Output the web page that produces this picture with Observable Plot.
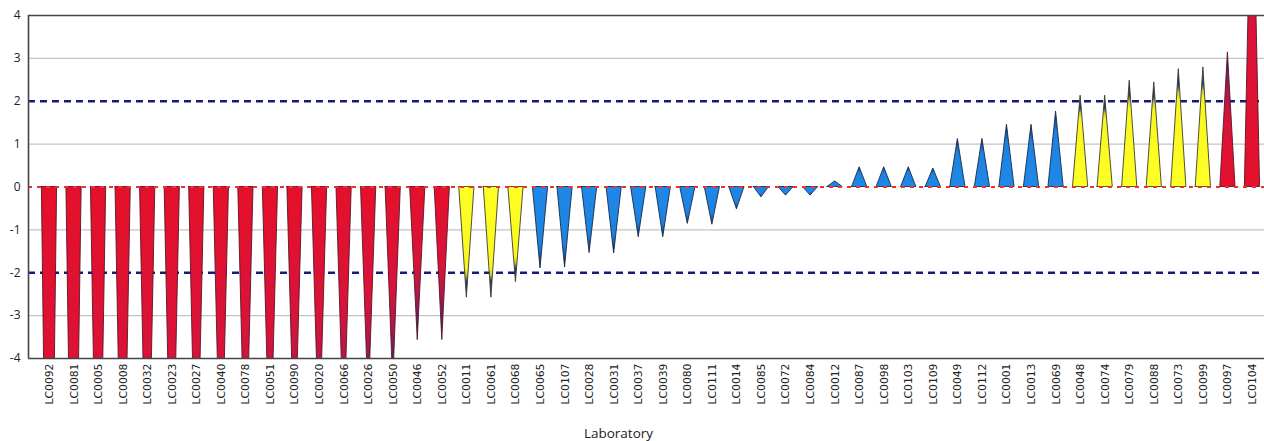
<!DOCTYPE html>
<html>
<head>
<meta charset="utf-8">
<script src="https://cdn.jsdelivr.net/npm/d3@7"></script>
<script src="https://cdn.jsdelivr.net/npm/@observablehq/plot@0.6"></script>
<style>
  html, body { margin: 0; padding: 0; background: #fff; }
  #chart svg { display: block; }
</style>
</head>
<body>
<div id="chart"></div>
<script>
// Laboratories, in the order shown
const labs = ["LC0092","LC0081","LC0005","LC0008","LC0032","LC0023","LC0027","LC0040","LC0078","LC0051",
  "LC0090","LC0020","LC0066","LC0026","LC0050","LC0046","LC0052","LC0011","LC0061","LC0068",
  "LC0065","LC0107","LC0028","LC0031","LC0037","LC0039","LC0080","LC0111","LC0014","LC0085",
  "LC0072","LC0084","LC0012","LC0087","LC0098","LC0103","LC0109","LC0049","LC0112","LC0001",
  "LC0013","LC0069","LC0048","LC0074","LC0079","LC0088","LC0073","LC0099","LC0097","LC0104"];
// z-scores (values beyond ±4 are clipped by the axis)
const zScores = [-14, -12, -10.5, -9.5, -9, -8.5, -8, -7.5, -7.1, -6.8,
  -6.4, -6.1, -5.8, -5.1, -4.6, -3.57, -3.57, -2.58, -2.58, -2.22,
  -1.9, -1.88, -1.54, -1.55, -1.17, -1.17, -0.86, -0.88, -0.52, -0.24,
  -0.2, -0.2, 0.13, 0.46, 0.46, 0.46, 0.43, 1.12, 1.12, 1.45,
  1.45, 1.76, 2.13, 2.13, 2.48, 2.44, 2.75, 2.79, 3.14, 8.5];
const yTicks = [-4, -3, -2, -1, 0, 1, 2, 3, 4];
const gridValues = [-3, -1, 1, 3];
const limitValues = [-2, 2];
const axisTitle = "Laboratory";

const palette = {
  red:    {stops: [[0, "#e5102b"], [0.5, "#d8133a"], [0.7, "#b01848"], [0.82, "#74205a"], [0.9, "#1e2f6b"], [1, "#1e2f6b"]], line: "#5a1428"},
  yellow: {stops: [[0, "#ffff26"], [0.74, "#f8f820"], [0.8, "#c8c840"], [0.86, "#1e3570"], [1, "#1e3570"]], line: "#3c3c28"},
  blue:   {stops: [[0, "#1f88e8"], [0.72, "#1c82e0"], [0.84, "#1a5fae"], [0.92, "#1c3570"], [1, "#1c3570"]], line: "#1a2a4a"}
};
const classOf = v => Math.abs(v) >= 3 ? "red" : Math.abs(v) >= 2 ? "yellow" : "blue";

const halfWidth = 0.31;
const points = [];
labs.forEach((lab, i) => {
  const v = zScores[i];
  const cls = classOf(v);
  const dir = v < 0 ? "down" : "up";
  const fill = `url(#g-${cls}-${dir})`;
  const stroke = palette[cls].line;
  points.push({lab, x: i - halfWidth, y: 0, fill, stroke});
  points.push({lab, x: i, y: v, fill, stroke});
  points.push({lab, x: i + halfWidth, y: 0, fill, stroke});
});

const xDomain = [-0.855, labs.length - 1 + 0.49];

const chart = Plot.plot({
  width: 1264,
  height: 441,
  marginLeft: 28,
  marginRight: 0,
  marginTop: 15,
  marginBottom: 83,
  style: {background: "#fff", fontFamily: "'DejaVu Sans', sans-serif"},
  x: {domain: xDomain, axis: null},
  y: {domain: [-4, 4], axis: null},
  color: {type: "identity"},
  marks: [
    Plot.ruleY(gridValues, {stroke: "#c4c4c4", strokeWidth: 1.2}),
    Plot.ruleY(limitValues, {stroke: "#161a78", strokeWidth: 2.6, strokeDasharray: "7,5"}),
    Plot.areaY(points, {x: "x", y: "y", z: "lab", fill: "fill", stroke: "stroke", strokeWidth: 0.9, clip: true}),
    Plot.ruleY([0], {stroke: "#e8342c", strokeWidth: 2, strokeDasharray: "4,5"}),
    Plot.ruleY([4, -4], {stroke: "#454545", strokeWidth: 1.6}),
    Plot.ruleX([xDomain[0]], {stroke: "#454545", strokeWidth: 1.6}),
    Plot.axisY(yTicks, {tickSize: 0, tickPadding: 8, tickFormat: d => String(d), fontSize: 12, fill: "#222", fontFamily: "'Open Sans', sans-serif", label: null}),
    Plot.axisX(d3.range(labs.length), {tickSize: 0, tickPadding: 5, tickRotate: -90, tickFormat: i => labs[i], fontSize: 10.8, fill: "#222", label: null}),
    Plot.text([axisTitle], {frameAnchor: "bottom", dy: 79, dx: -28, lineAnchor: "bottom", fontSize: 13.5, fill: "#222", fontFamily: "'Open Sans', sans-serif"})
  ]
});

// gradient definitions used by the cone fills
const svg = d3.select(chart.tagName.toLowerCase() === "svg" ? chart : chart.querySelector("svg"));
const defs = svg.insert("defs", ":first-child");
for (const [cls, c] of Object.entries(palette)) {
  for (const dir of ["down", "up"]) {
    const g = defs.append("linearGradient")
      .attr("id", `g-${cls}-${dir}`)
      .attr("x1", 0).attr("x2", 0)
      .attr("y1", dir === "down" ? 0 : 1)
      .attr("y2", dir === "down" ? 1 : 0);
    for (const [o, col] of c.stops) g.append("stop").attr("offset", o).attr("stop-color", col);
  }
}

document.getElementById("chart").appendChild(chart);
</script>
</body>
</html>
